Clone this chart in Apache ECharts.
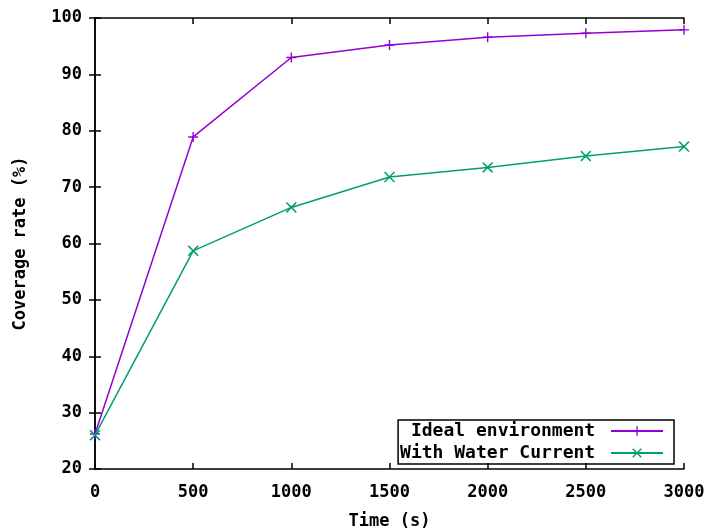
<!DOCTYPE html>
<html><head><meta charset="utf-8">
<script src="https://cdn.jsdelivr.net/npm/echarts@6/dist/echarts.min.js"></script>
<style>html,body{margin:0;padding:0;background:#fff}#c{width:713px;height:531px}</style>
</head><body><div id="c"></div>
<script>
var times = [0, 500, 1000, 1500, 2000, 2500, 3000];
var ideal = [26.2, 78.9, 93.0, 95.2, 96.6, 97.3, 97.9];
var water = [26.0, 58.7, 66.4, 71.8, 73.5, 75.5, 77.2];
var seriesNames = ['Ideal environment', 'With Water Current'];
var xTicks = [0, 500, 1000, 1500, 2000, 2500, 3000];
var yTicks = [20, 30, 40, 50, 60, 70, 80, 90, 100];

var FONT = 'DejaVu Sans Mono';
var plus = 'path://M4.3,0H5.7V4.3H10V5.7H5.7V10H4.3V5.7H0V4.3H4.3Z';
var cross = 'path://M1,0L5,4L9,0L10,1L6,5L10,9L9,10L5,6L1,10L0,9L4,5L0,1Z';
var lab = {fontFamily: FONT, fontWeight: 'bold', fontSize: 17, color: '#000'};
function pairs(v){ return times.map(function(t,i){ return [t, v[i]]; }); }
var chart = echarts.init(document.getElementById('c'), null, {renderer:'canvas'});
var axLine = {show:true, lineStyle:{color:'#000', width:1.5}};
chart.setOption({
  animation:false,
  backgroundColor:'#fff',
  grid:{left:95, right:29, top:18, bottom:62, containLabel:false, outerBoundsMode:'none'},
  legend:{
    orient:'vertical', right:39, bottom:67, align:'right',
    itemWidth:52, itemHeight:12, itemGap:4,
    borderColor:'#000', borderWidth:1.5, padding:[2,10,2,2],
    textStyle:{fontFamily:FONT, fontWeight:'bold', fontSize:18, color:'#000'},
    formatter:function(n){ return (n.length < 18 ? ' '.repeat(18-n.length)+n : n) + ' '; },
    data:seriesNames
  },
  xAxis:[{
    type:'value', min:0, max:3000, interval:500,
    name:'Time (s)', nameLocation:'middle', nameGap:44,
    nameTextStyle:lab,
    axisLine:axLine, splitLine:{show:false},
    axisTick:{inside:true, length:6, lineStyle:{color:'#000', width:1.5}},
    axisLabel:Object.assign({margin:15, formatter:function(v){return xTicks.indexOf(v)>=0?String(v):'';}}, lab)
  },{
    type:'value', min:0, max:3000, interval:500, position:'top',
    axisLine:axLine, splitLine:{show:false}, axisLabel:{show:false},
    axisTick:{inside:true, length:6, lineStyle:{color:'#000', width:1.5}}
  }],
  yAxis:[{
    type:'value', min:20, max:100, interval:10,
    name:'Coverage rate (%)', nameLocation:'middle', nameGap:66, nameRotate:90,
    nameTextStyle:lab,
    axisLine:axLine, splitLine:{show:false},
    axisTick:{inside:true, length:6, lineStyle:{color:'#000', width:1.5}},
    axisLabel:Object.assign({margin:13, formatter:function(v){return yTicks.indexOf(v)>=0?String(v):'';}}, lab)
  },{
    type:'value', min:20, max:100, interval:10, position:'right',
    axisLine:axLine, splitLine:{show:false}, axisLabel:{show:false},
    axisTick:{inside:true, length:6, lineStyle:{color:'#000', width:1.5}}
  }],
  series:[{
    name:seriesNames[0], type:'line', data:pairs(ideal),
    symbol:plus, symbolSize:10, showAllSymbol:true,
    lineStyle:{color:'#9400d3', width:1.5}, itemStyle:{color:'#9400d3'}
  },{
    name:seriesNames[1], type:'line', data:pairs(water),
    symbol:cross, symbolSize:11, showAllSymbol:true,
    lineStyle:{color:'#009e73', width:1.5}, itemStyle:{color:'#009e73'}
  }]
});
</script></body></html>
